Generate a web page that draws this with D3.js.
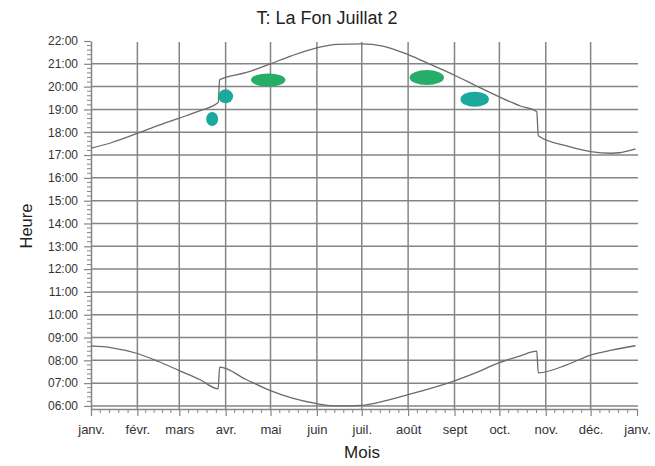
<!DOCTYPE html>
<html>
<head>
<meta charset="utf-8">
<script src="https://cdn.jsdelivr.net/npm/d3@7/dist/d3.min.js"></script>
<style>
  html, body { margin: 0; padding: 0; background: #fff; }
  svg { display: block; font-family: "Liberation Sans", Arial, sans-serif; }
</style>
</head>
<body>
<svg id="chart" width="655" height="466"></svg>
<script>
// ---- Data ----
const title = "T: La Fon Juillat 2";
const monthLabels = ["janv.", "févr.", "mars", "avr.", "mai", "juin", "juil.", "août", "sept", "oct.", "nov.", "déc.", "janv."];
const hourTicks = [6, 7, 8, 9, 10, 11, 12, 13, 14, 15, 16, 17, 18, 19, 20, 21, 22];

// Sunset (coucher) in local time, hours
const sunsetDates = ["2021-01-01","2021-01-15","2021-02-01","2021-02-15","2021-03-01","2021-03-15","2021-03-27","2021-03-28","2021-04-15","2021-05-01","2021-05-15","2021-06-01","2021-06-15","2021-07-01","2021-07-15","2021-08-01","2021-08-15","2021-09-01","2021-09-15","2021-10-01","2021-10-15","2021-10-26","2021-10-27","2021-11-15","2021-12-01","2021-12-15","2021-12-20","2021-12-31"];
const sunsetHours = [17.30,17.55,17.95,18.30,18.62,18.95,19.30,20.30,20.62,21.00,21.35,21.70,21.85,21.87,21.78,21.40,21.00,20.50,20.05,19.55,19.15,18.90,17.85,17.40,17.15,17.08,17.10,17.27];

// Sunrise (lever) in local time, hours
const sunriseDates = ["2021-01-01","2021-01-15","2021-02-01","2021-02-15","2021-03-01","2021-03-15","2021-03-27","2021-03-28","2021-04-15","2021-05-01","2021-05-15","2021-06-01","2021-06-15","2021-07-01","2021-07-15","2021-08-01","2021-08-15","2021-09-01","2021-09-15","2021-10-01","2021-10-15","2021-10-26","2021-10-27","2021-11-15","2021-12-01","2021-12-15","2021-12-31"];
const sunriseHours = [8.63,8.55,8.30,7.95,7.55,7.15,6.75,7.70,7.15,6.67,6.35,6.10,6.00,6.03,6.20,6.50,6.75,7.10,7.45,7.90,8.20,8.40,7.45,7.80,8.23,8.45,8.64];

// Observations (spots): date range and hour range
const spotStart = ["2021-03-19","2021-03-27","2021-04-18","2021-08-02","2021-09-05"];
const spotEnd   = ["2021-03-27","2021-04-06","2021-05-11","2021-08-25","2021-09-24"];
const spotTop    = [18.89, 19.88, 20.58, 20.73, 19.78];
const spotBottom = [18.27, 19.27, 20.00, 20.07, 19.12];
const spotKind   = ["a", "a", "b", "b", "a"];

// ---- Layout ----
const parse = d3.utcParse("%Y-%m-%d");
const W = 655, H = 466;
const m = { left: 91, right: 18, top: 41, bottom: 57 };
const svg = d3.select("#chart");

const x = d3.scaleUtc()
  .domain([Date.UTC(2021, 0, 1), Date.UTC(2022, 0, 1)])
  .range([m.left, W - m.right]);
const y = d3.scaleLinear()
  .domain([5 + 52 / 60, 22])
  .range([H - m.bottom, m.top]);

const gridColor = "#858585";
const lineColor = "#6a6a6a";
const textColor = "#333";
const spotColor = { a: "#1aa99c", b: "#26ad68" };

const monthDates = d3.utcMonths(Date.UTC(2021, 0, 1), Date.UTC(2022, 0, 2));

// Horizontal grid lines
svg.append("g").selectAll("line")
  .data(hourTicks.filter(h => h < 22))
  .join("line")
  .attr("x1", x.range()[0]).attr("x2", x.range()[1] + 1)
  .attr("y1", d => y(d)).attr("y2", d => y(d))
  .attr("stroke", gridColor).attr("stroke-width", 1.5);

// Vertical grid lines (months)
svg.append("g").selectAll("line")
  .data(monthDates.slice(1, 12))
  .join("line")
  .attr("x1", d => x(d)).attr("x2", d => x(d))
  .attr("y1", y(22) + 1).attr("y2", y.range()[0])
  .attr("stroke", gridColor).attr("stroke-width", 1.5);

// Minor ticks: 4 per month, 4 per hour
const minorX = [];
for (let i = 0; i < 12; i++) {
  const a = +monthDates[i], b = +monthDates[i + 1];
  for (let k = 1; k <= 4; k++) minorX.push(new Date(a + (b - a) * k / 5));
}
const minorY = [];
for (let h = 6; h < 22; h++) for (let k = 1; k <= 4; k++) minorY.push(h + k / 5);

// X axis
const xAxis = svg.append("g")
  .attr("transform", `translate(0,${y.range()[0]})`)
  .call(d3.axisBottom(x).tickValues(monthDates).tickFormat((d, i) => monthLabels[i]).tickSize(7).tickSizeOuter(0));
xAxis.select(".domain").attr("stroke", gridColor).attr("stroke-width", 1.5);
xAxis.selectAll(".tick line").attr("stroke", gridColor).attr("stroke-width", 1.2);
xAxis.selectAll(".tick text").attr("fill", textColor).attr("font-size", 13).attr("y", 16)
  .attr("font-family", "Liberation Sans, Arial, sans-serif");
xAxis.append("g").selectAll("line").data(minorX).join("line")
  .attr("x1", d => x(d)).attr("x2", d => x(d)).attr("y1", 0).attr("y2", 4)
  .attr("stroke", gridColor).attr("stroke-width", 1);

// Y axis
const yAxis = svg.append("g")
  .attr("transform", `translate(${x.range()[0]},0)`)
  .call(d3.axisLeft(y).tickValues(hourTicks).tickFormat(h => String(h).padStart(2, "0") + ":00").tickSize(7).tickSizeOuter(0));
yAxis.select(".domain").attr("stroke", gridColor).attr("stroke-width", 1.5);
yAxis.selectAll(".tick line").attr("stroke", gridColor).attr("stroke-width", 1.2);
yAxis.selectAll(".tick text").attr("fill", textColor).attr("font-size", 12)
  .attr("font-family", "Liberation Sans, Arial, sans-serif").attr("x", -13);
yAxis.append("g").selectAll("line").data(minorY).join("line")
  .attr("x1", -4).attr("x2", 0).attr("y1", d => y(d)).attr("y2", d => y(d))
  .attr("stroke", gridColor).attr("stroke-width", 1);

// Curves
const line = d3.line().x(d => x(d[0])).y(d => y(d[1])).curve(d3.curveMonotoneX);
const sunset = sunsetDates.map((d, i) => [parse(d), sunsetHours[i]]);
const sunrise = sunriseDates.map((d, i) => [parse(d), sunriseHours[i]]);
[sunset, sunrise].forEach(data => {
  svg.append("path").datum(data).attr("d", line)
    .attr("fill", "none").attr("stroke", lineColor).attr("stroke-width", 1.3);
});

// Spots
svg.append("g").selectAll("ellipse")
  .data(spotStart.map((s, i) => ({ s: parse(s), e: parse(spotEnd[i]), t: spotTop[i], b: spotBottom[i], k: spotKind[i] })))
  .join("ellipse")
  .attr("cx", d => (x(d.s) + x(d.e)) / 2)
  .attr("cy", d => (y(d.t) + y(d.b)) / 2)
  .attr("rx", d => (x(d.e) - x(d.s)) / 2)
  .attr("ry", d => (y(d.b) - y(d.t)) / 2)
  .attr("fill", d => spotColor[d.k]);

// Titles
svg.append("text").attr("x", 327).attr("y", 24).attr("text-anchor", "middle")
  .attr("font-size", 18).attr("fill", "#222").text(title);
svg.append("text").attr("transform", "translate(32,226) rotate(-90)").attr("text-anchor", "middle")
  .attr("font-size", 16.5).attr("fill", "#222").text("Heure");
svg.append("text").attr("x", 362).attr("y", 458).attr("text-anchor", "middle")
  .attr("font-size", 17).attr("fill", "#222").text("Mois");
</script>
</body>
</html>
